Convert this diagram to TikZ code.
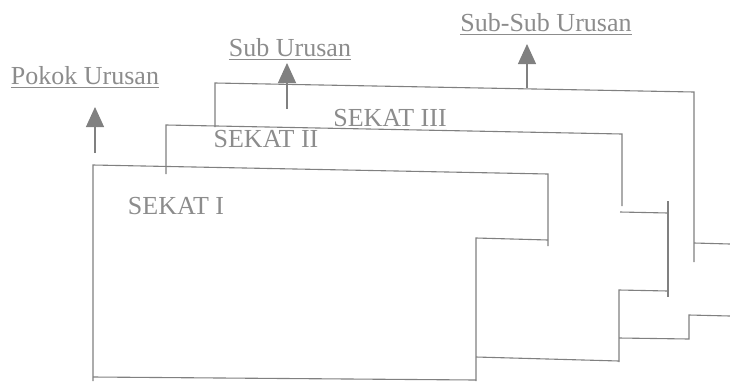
\documentclass[tikz,border=0pt]{standalone}
\usepackage{fontspec}
\setmainfont{Liberation Serif}
\usetikzlibrary{arrows.meta}
\definecolor{scan}{gray}{0.5}
\definecolor{ink}{gray}{0.55}

\begin{document}
\begin{tikzpicture}[x=1pt,y=-1pt]
  \useasboundingbox (0,0) rectangle (730,381);
  \tikzstyle{LineStyle}=[draw=scan,line width=1.1pt]
  \tikzstyle{LabelStyle}=[text=ink,font=\fontsize{26}{30}\selectfont,inner sep=0pt,anchor=base]
  \tikzstyle{UnderStyle}=[draw=ink,line width=0.8pt]
  \tikzstyle{ArrowStyle}=[draw=scan,fill=scan,line width=1.1pt,-{Triangle[width=18pt,length=20pt]}]
  % headings
  \node[LabelStyle] (pokok) at (85,84) {Pokok Urusan};
  \node[LabelStyle] (sub) at (290,56) {Sub Urusan};
  \node[LabelStyle] (subsub) at (546,31) {Sub-Sub Urusan};
  \draw[UnderStyle] ([yshift=-3pt]pokok.base west) -- ([yshift=-3pt]pokok.base east);
  \draw[UnderStyle] ([yshift=-3pt]sub.base west) -- ([yshift=-3pt]sub.base east);
  \draw[UnderStyle] ([yshift=-3pt]subsub.base west) -- ([yshift=-3pt]subsub.base east);
  % arrows
  \coordinate (pokok-foot) at (95,153);
  \coordinate (pokok-tip) at (95,107);
  \coordinate (sub-foot) at (287,109);
  \coordinate (sub-tip) at (287,63);
  \coordinate (subsub-foot) at (527,88);
  \coordinate (subsub-tip) at (527,44);
  \draw[ArrowStyle] (pokok-foot) -- (pokok-tip);
  \draw[ArrowStyle] (sub-foot) -- (sub-tip);
  \draw[ArrowStyle] (subsub-foot) -- (subsub-tip);
  % sekat I
  \draw[LineStyle] (93,381) -- (93,165) -- (548,174) -- (548,246);
  \draw[LineStyle] (548,240) -- (476,238) -- (476,381);
  \draw[LineStyle] (93,377) -- (476,380);
  % sekat II
  \draw[LineStyle] (166,174) -- (166,125) -- (622,134) -- (622,206);
  \draw[LineStyle] (620,212) -- (668,213);
  \draw[LineStyle] (668,201) -- (668,297);
  \draw[LineStyle] (668,291) -- (619,290) -- (619,362);
  \draw[LineStyle] (476,357) -- (619,361);
  % sekat III
  \draw[LineStyle] (215,127) -- (215,83) -- (694,92) -- (694,262);
  \draw[LineStyle] (694,243) -- (730,244);
  \draw[LineStyle] (619,338) -- (689,339) -- (689,315) -- (730,316);
  % names
  \node[LabelStyle] (sekat1) at (176,214) {SEKAT I};
  \node[LabelStyle] (sekat2) at (266,147) {SEKAT II};
  \node[LabelStyle] (sekat3) at (390,126) {SEKAT III};
\end{tikzpicture}
\end{document}
